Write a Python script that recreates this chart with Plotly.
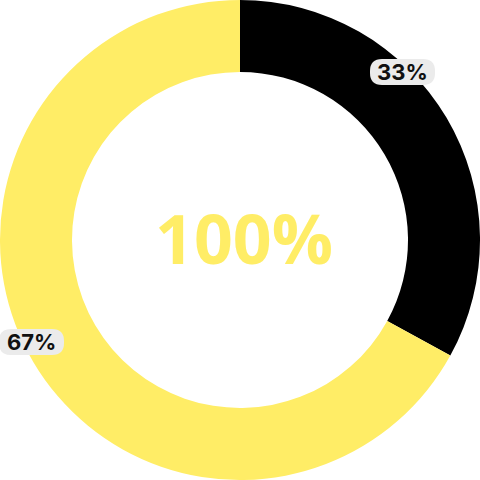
import plotly.graph_objects as go

categories = ["A", "B"]
values = [33, 67]
colors = ["#000000", "#FFED66"]
center_text = "100%"

fig = go.Figure(go.Pie(
    labels=categories, values=values, hole=0.7, sort=False,
    direction="clockwise", rotation=0,
    marker=dict(colors=colors, line=dict(width=0)),
    textinfo="none", hoverinfo="none", showlegend=False,
    domain=dict(x=[0, 1], y=[0, 1]),
))

W = 480.0
label_pos = [(402.5, 72), (31.5, 342)]
shapes = []
annotations = []
for (px, py), v in zip(label_pos, values):
    x0, x1 = (px - 32.5) / W, (px + 32.5) / W
    y0, y1 = 1 - (py + 13) / W, 1 - (py - 13) / W
    r = 12 / W
    path = (f"M {x0+r},{y0} L {x1-r},{y0} Q {x1},{y0} {x1},{y0+r} L {x1},{y1-r} "
            f"Q {x1},{y1} {x1-r},{y1} L {x0+r},{y1} Q {x0},{y1} {x0},{y1-r} "
            f"L {x0},{y0+r} Q {x0},{y0} {x0+r},{y0} Z")
    shapes.append(dict(type="path", xref="paper", yref="paper", path=path,
                       fillcolor="#EBEBEB", line=dict(width=0), layer="above"))
    annotations.append(dict(x=px / W, y=1 - py / W, xref="paper", yref="paper",
                            xanchor="center", yanchor="middle",
                            text=f"<b>{v}%</b>", showarrow=False,
                            font=dict(family="Inter", size=22, color="#111111")))

annotations.append(dict(x=0.5, y=0.5, xref="paper", yref="paper",
                        xanchor="center", yanchor="middle", xshift=4, yshift=3,
                        text=f"<b>{center_text}</b>", showarrow=False,
                        font=dict(family="Open Sans", size=68, color="#FFED66")))

fig.update_layout(width=480, height=480, margin=dict(l=0, r=0, t=0, b=0),
                  paper_bgcolor="white", plot_bgcolor="white",
                  shapes=shapes, annotations=annotations)
fig.write_html("out.html")
